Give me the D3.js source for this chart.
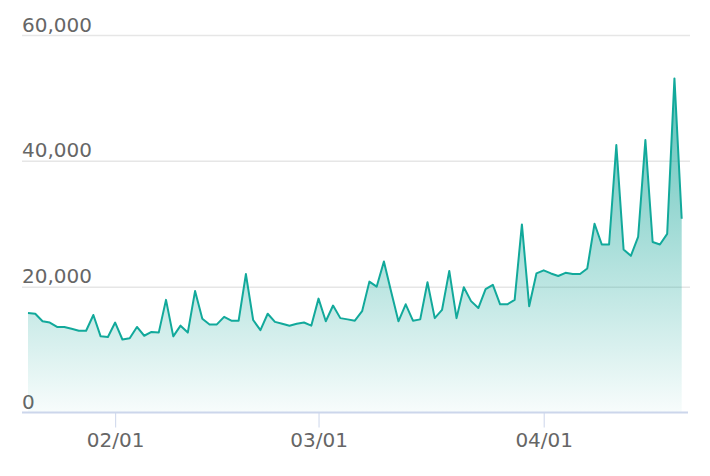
<!DOCTYPE html>
<html>
<head>
<meta charset="utf-8">
<script src="https://cdn.jsdelivr.net/npm/d3@7"></script>
<style>
    body { margin: 0; background: #fff; }
    text { font-family: "DejaVu Sans", sans-serif; fill: #666; }
</style>
</head>
<body>
<div id="chart"></div>
<script>
// Daily values, Jan 20 -> Apr 20
var startDate = "2021-01-20";
var endDate = "2021-04-20";
var values = [
    15800, 15700, 14500, 14300, 13600, 13600, 13300, 13000, 13000, 15500,
    12100, 12000, 14300, 11600, 11800, 13600, 12200, 12800, 12700, 17900,
    12100, 13800, 12700, 19300, 14900, 14000, 14000, 15200, 14600, 14600,
    22000, 14700, 13100, 15700, 14400, 14100, 13800, 14100, 14300, 13800,
    18100, 14500, 17000, 15000, 14800, 14600, 16100, 20800, 20000, 24000,
    19200, 14500, 17200, 14600, 14800, 20700, 15000, 16300, 22500, 15000,
    19900, 17700, 16600, 19600, 20300, 17200, 17200, 17900, 29900, 16900,
    22100, 22600, 22100, 21700, 22200, 22000, 22000, 22900, 30000, 26700,
    26700, 42500, 25900, 24900, 27900, 43300, 27100, 26700, 28400, 53100,
    30800
];
var tickLabels = ["02/01", "03/01", "04/01"];
var yTicks = [0, 20000, 40000, 60000];

(function() {

    // Set margins
    var margin = { top: 35, left: 22, right: 20, bottom: 63.5 },
        width = 710 - margin.left - margin.right,
        height = 476 - margin.top - margin.bottom;

    var parseDay = d3.timeParse("%Y-%m-%d");
    var parseTick = d3.timeParse("%Y/%m/%d");

    // Dates for each value
    var days = d3.timeDay.range(parseDay(startDate), d3.timeDay.offset(parseDay(endDate), 1));
    var data = days.map(function(d, i) {
        return { date: d, value: values[i] };
    });
    var tickDates = tickLabels.map(function(t) { return parseTick("2021/" + t); });

    var svg = d3.select("#chart")
        .append("svg")
        .attr("width", 710)
        .attr("height", 476)
        .append("g")
        .attr("transform", "translate(" + margin.left + "," + margin.top + ")");

    // Scales
    var x = d3.scaleTime()
        .domain(d3.extent(data, function(d) { return d.date; }))
        .range([6, width - 8.3]);
    var y = d3.scaleLinear()
        .domain([0, 60000])
        .range([height, 0]);

    // Gradient for the area
    var grad = svg.append("defs").append("linearGradient")
        .attr("id", "fill")
        .attr("x1", 0).attr("y1", 0)
        .attr("x2", 0).attr("y2", 1);
    grad.append("stop").attr("offset", "0%")
        .attr("stop-color", "#0ea396").attr("stop-opacity", 0.68);
    grad.append("stop").attr("offset", "100%")
        .attr("stop-color", "#0ea396").attr("stop-opacity", 0.03);

    // Gridlines and y labels
    var yAxis = svg.append("g")
        .attr("class", "y-axis")
        .call(d3.axisRight(y).tickValues(yTicks).tickSize(width).tickFormat(d3.format(",")));
    yAxis.select(".domain").remove();
    yAxis.selectAll(".tick line")
        .attr("stroke", "#e6e6e6")
        .attr("stroke-width", 1.5)
        .filter(function(d) { return d === 0; }).remove();
    yAxis.selectAll(".tick text")
        .attr("x", 0)
        .attr("dy", 0)
        .attr("y", -4)
        .style("font-size", "20px")
        .style("text-anchor", "start")
        .attr("fill", "#666");

    // Area and line
    var area = d3.area()
        .x(function(d) { return x(d.date); })
        .y0(y(0))
        .y1(function(d) { return y(d.value); });
    var line = d3.line()
        .x(function(d) { return x(d.date); })
        .y(function(d) { return y(d.value); });

    svg.append("path")
        .datum(data)
        .attr("d", area)
        .attr("fill", "url(#fill)");
    svg.append("path")
        .datum(data)
        .attr("d", line)
        .attr("fill", "none")
        .attr("stroke", "#12a99b")
        .attr("stroke-width", 2)
        .attr("stroke-linejoin", "round");

    // X axis
    var xAxis = svg.append("g")
        .attr("class", "x-axis")
        .attr("transform", "translate(0," + height + ")")
        .call(d3.axisBottom(x).tickValues(tickDates).tickSize(15).tickFormat(d3.timeFormat("%m/%d")));
    xAxis.select(".domain").remove();
    xAxis.selectAll(".tick line").attr("stroke", "#ccd6eb");
    xAxis.selectAll(".tick text")
        .attr("y", 34.5)
        .attr("dy", 0)
        .style("font-size", "20px")
        .attr("fill", "#666");
    xAxis.append("line")
        .attr("x1", 0).attr("x2", width - 2)
        .attr("y1", 0).attr("y2", 0)
        .attr("stroke", "#ccd6eb")
        .attr("stroke-width", 2);
}());
</script>
</body>
</html>
